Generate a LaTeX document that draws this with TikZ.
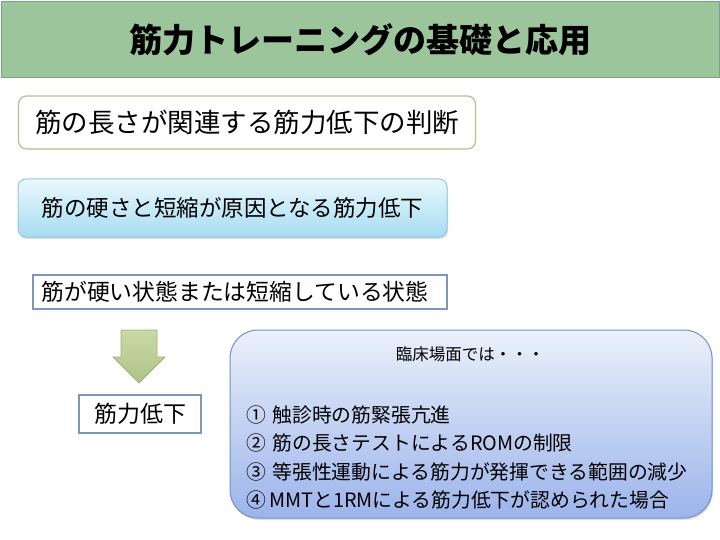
\documentclass[tikz,border=0pt]{standalone}
\usepackage{fontspec}
\setmainfont{Noto Sans CJK JP}
\usetikzlibrary{shadows}

\definecolor{titlefill}{HTML}{9DC59C}
\definecolor{titleline}{HTML}{7BA08A}
\definecolor{olivebox}{HTML}{B6BF86}
\definecolor{cyanline}{HTML}{94C8DC}
\definecolor{cyantop}{HTML}{EAF8FD}
\definecolor{cyanbottom}{HTML}{A6DCF2}
\definecolor{grayblue}{HTML}{7C98B6}
\definecolor{arrowline}{HTML}{9DB07A}
\definecolor{arrowtop}{HTML}{C9D9A6}
\definecolor{arrowbottom}{HTML}{AFC485}
\definecolor{clinicline}{HTML}{7391C6}
\definecolor{clinictop}{HTML}{EBF0FA}
\definecolor{clinicbottom}{HTML}{9CB4EB}

\tikzset{
  topicbox/.style={draw=olivebox, line width=1.2pt, fill=white, rounded corners=8pt},
  causebox/.style={draw=cyanline, line width=1pt, rounded corners=8pt,
    top color=cyantop, bottom color=cyanbottom,
    drop shadow={opacity=0.25, shadow xshift=1pt, shadow yshift=-2pt}},
  statebox/.style={draw=grayblue, line width=1.2pt, fill=white},
  clinicbox/.style={draw=clinicline, line width=1pt, rounded corners=28pt,
    top color=clinictop, bottom color=clinicbottom,
    drop shadow={opacity=0.25, shadow xshift=1pt, shadow yshift=-2pt}},
}

\begin{document}
\begin{tikzpicture}[x=1pt, y=-1pt]
\useasboundingbox (0,0) rectangle (720,540);

% title bar
\node[draw=titleline, line width=1pt, fill=titlefill, minimum width=718pt, minimum height=76pt,
  font=\fontsize{33}{36}\selectfont\bfseries] (title) at (360,40) {筋力トレーニングの基礎と応用};

\node[topicbox, minimum width=457pt, minimum height=53pt, font=\fontsize{26.5}{30}\selectfont]
  (topic) at (247,122.5) {筋の長さが関連する筋力低下の判断};
\node[causebox, minimum width=429pt, minimum height=58pt, font=\fontsize{22.5}{26}\selectfont]
  (cause) at (232.5,208) {筋の硬さと短縮が原因となる筋力低下};
\node[statebox, minimum width=414pt, minimum height=34pt, inner sep=0pt, font=\fontsize{22.8}{26}\selectfont]
  (state) at (240,292) {\hspace*{-10pt}筋が硬い状態または短縮している状態};
\node[statebox, minimum width=122pt, minimum height=38pt, font=\fontsize{23}{26}\selectfont]
  (weak) at (140,414) {筋力低下};

% block arrow
\draw[arrowline, line width=0.8pt, top color=arrowtop, bottom color=arrowbottom]
  (121,330) -- (157,330) -- (157,357) -- (165,357) -- (139,383) -- (113,357) -- (121,357) -- cycle;

% clinical box
\node[clinicbox, minimum width=482pt, minimum height=188pt] (clinic) at (471,424) {};
\node[font=\fontsize{16.5}{20}\selectfont] (clinichead) at (470,354) {臨床場面では・・・};
\node[anchor=west, align=left, inner sep=0pt, font=\fontsize{19.8}{28.5}\selectfont]
  (cliniclist) at (246,457.5) {①\,\,触診時の筋緊張亢進\\
②\,\,筋の長さテストによるROMの制限\\
③\,\,等張性運動による筋力が発揮できる範囲の減少\\
④\,MMTと1RMによる筋力低下が認められた場合};
\end{tikzpicture}
\end{document}
